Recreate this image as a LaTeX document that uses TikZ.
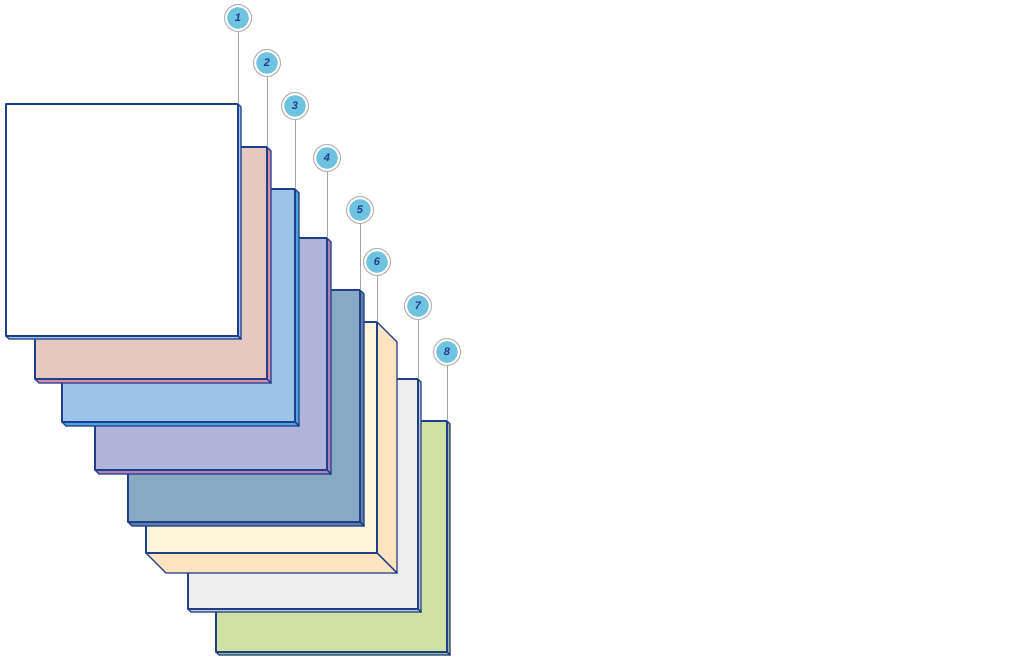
\documentclass[tikz,border=0pt]{standalone}
\usepackage{fontspec}
\setmainfont{Liberation Sans}
\begin{document}
\begin{tikzpicture}[x=1pt,y=-1pt]
\definecolor{edge}{HTML}{1F3F8A}
\definecolor{badge}{HTML}{6EC3E0}
\definecolor{f8}{HTML}{CFE2A4}\definecolor{s8}{HTML}{9DBB7A}
\definecolor{f7}{HTML}{EEEEEE}\definecolor{s7}{HTML}{C8C8C8}
\definecolor{f6}{HTML}{FFF4DC}\definecolor{s6}{HTML}{FDE3C0}
\definecolor{f5}{HTML}{86A9C4}\definecolor{s5}{HTML}{5A80A8}
\definecolor{f4}{HTML}{B0B4DA}\definecolor{s4}{HTML}{B07FB5}
\definecolor{f3}{HTML}{9CC4E8}\definecolor{s3}{HTML}{4FA3E0}
\definecolor{f2}{HTML}{E5C8C0}\definecolor{s2}{HTML}{D98AA8}
\definecolor{f1}{HTML}{FFFFFF}\definecolor{s1}{HTML}{9CC4E8}
\tikzset{face/.style={draw=edge,line width=1.4pt,line join=round},
 lead/.style={draw=gray!70,line width=1pt},
 badgebox/.style={circle,fill=badge,draw=white,line width=1.2pt,minimum size=23pt,inner sep=0pt,font=\bfseries\itshape\fontsize{11}{11}\selectfont,text=edge}}
\useasboundingbox (0,0) rectangle (1030,660);
% L T size depth num badgey
\newcommand\mylayer[6]{%
 \path[face,fill=s#5] (#1+#3,#2) -- (#1+#3+#4,#2+#4) -- (#1+#3+#4,#2+#3+#4) -- (#1+#3,#2+#3) -- cycle;
 \path[face,fill=s#5] (#1,#2+#3) -- (#1+#4,#2+#3+#4) -- (#1+#3+#4,#2+#3+#4) -- (#1+#3,#2+#3) -- cycle;
 \path[face,fill=f#5] (#1,#2) rectangle (#1+#3,#2+#3);
 \coordinate (t#5) at (#1+#3,#2);
 \node[circle,fill=white,draw=gray!60,line width=1pt,minimum size=27pt] (o#5) at (#1+#3,#6) {};
 \node[badgebox] (b#5) at (o#5) {#5};
 \draw[lead] (o#5.south) -- (t#5);}
\mylayer{216}{421}{231}{3}{8}{352}
\mylayer{188}{379}{230}{3}{7}{306}
\mylayer{146}{322}{231}{20}{6}{262}
\mylayer{128}{290}{232}{4}{5}{210}
\mylayer{95}{238}{232}{4}{4}{158}
\mylayer{62}{189}{233}{4}{3}{106}
\mylayer{35}{147}{232}{4}{2}{63}
\mylayer{6}{104}{232}{3}{1}{18}
\end{tikzpicture}
\end{document}
